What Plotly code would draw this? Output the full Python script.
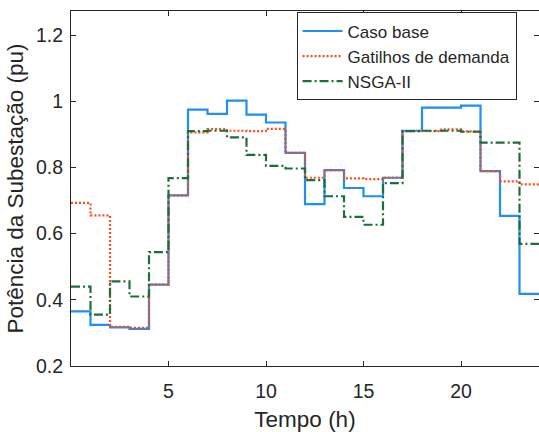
import plotly.graph_objects as go

hours = list(range(0, 25))
caso_base = [0.365, 0.324, 0.317, 0.312, 0.446, 0.716, 0.975, 0.962, 1.002, 0.960, 0.936, 0.844,
             0.689, 0.792, 0.738, 0.713, 0.769, 0.911, 0.981, 0.981, 0.987, 0.789, 0.654, 0.418]
gatilhos = [0.693, 0.655, 0.318, 0.315, 0.446, 0.716, 0.906, 0.916, 0.911, 0.910, 0.917, 0.844,
            0.769, 0.792, 0.767, 0.765, 0.769, 0.910, 0.910, 0.915, 0.909, 0.789, 0.758, 0.749]
nsga = [0.440, 0.355, 0.456, 0.410, 0.544, 0.768, 0.910, 0.911, 0.891, 0.838, 0.805, 0.797,
        0.762, 0.713, 0.651, 0.627, 0.753, 0.910, 0.911, 0.911, 0.908, 0.875, 0.875, 0.569]
names = ["Caso base", "Gatilhos de demanda", "NSGA-II"]
xticks = [5, 10, 15, 20]
yticks = [0.2, 0.4, 0.6, 0.8, 1.0, 1.2]
ytick_text = ["0.2", "0.4", "0.6", "0.8", "1", "1.2"]

FONT = "Liberation Sans, Arial, Helvetica, sans-serif"
TXT = "#262626"

fig = go.Figure()
styles = [
    dict(color="#1f8ff0", width=2.2, dash="solid"),
    dict(color="#ff4a1a", width=2.2, dash="2px,2px"),
    dict(color="#1e6e3c", width=2.2, dash="9px,3px,2px,3px"),
]
for name, vals, st in zip(names, [caso_base, gatilhos, nsga], styles):
    fig.add_trace(go.Scatter(x=hours, y=vals + [vals[-1]], mode="lines", name=name,
                             line=dict(shape="hv", **st)))

axis_common = dict(showgrid=False, zeroline=False, showline=True, linecolor=TXT, linewidth=1,
                   mirror="ticks", ticks="inside", ticklen=5, tickcolor=TXT, automargin=False,
                   tickfont=dict(family=FONT, size=19.5, color=TXT))
fig.update_xaxes(range=[0, 24], tickvals=xticks, ticklabelstandoff=8,
                 title=dict(text="Tempo (h)", font=dict(family=FONT, size=22.5, color=TXT), standoff=11),
                 **axis_common)
fig.update_yaxes(range=[0.2, 1.273], tickvals=yticks, ticktext=ytick_text, ticklabelstandoff=3,
                 title=dict(text="Potência da Subestação (pu)", font=dict(family=FONT, size=22.5, color=TXT), standoff=6),
                 **axis_common)

fig.update_layout(
    width=539, height=432,
    margin=dict(l=71, r=0, t=11, b=66),
    paper_bgcolor="white", plot_bgcolor="white",
    showlegend=True,
    legend=dict(x=0.482, y=0.748, xanchor="left", yanchor="bottom",
                bgcolor="white", bordercolor=TXT, borderwidth=1,
                font=dict(family=FONT, size=17, color=TXT),
                tracegroupgap=0, itemwidth=40),
)
fig.write_html("out.html", config={"displayModeBar": False},
               post_script="document.body.style.margin='0px'; document.body.style.overflow='hidden';")
